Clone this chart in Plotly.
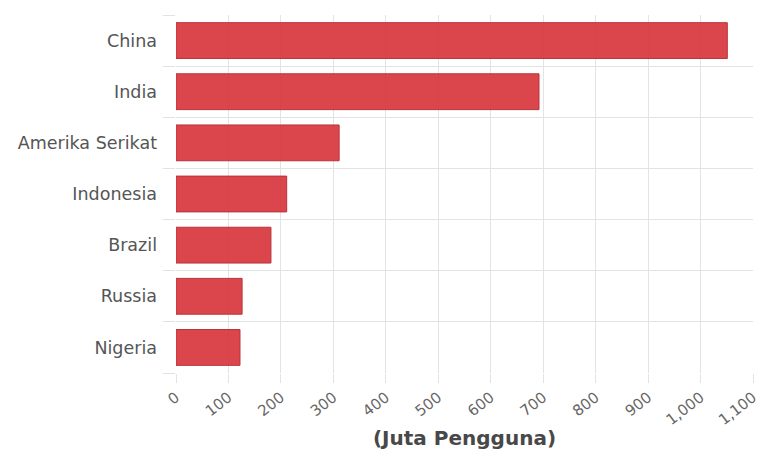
import plotly.graph_objects as go

countries = ["China", "India", "Amerika Serikat", "Indonesia", "Brazil", "Russia", "Nigeria"]
users = [1051, 692, 311, 211, 181, 126, 122]
x_tickvals = [0, 100, 200, 300, 400, 500, 600, 700, 800, 900, 1000, 1100]
x_ticktext = ["0", "100", "200", "300", "400", "500", "600", "700", "800", "900", "1,000", "1,100"]
x_title = "(Juta Pengguna)"

pos = list(range(len(countries)))
FONT = "DejaVu Sans"

fig = go.Figure(go.Bar(
    x=users, y=pos, orientation="h", width=0.7,
    marker=dict(color="rgba(216,56,62,0.93)", line=dict(color="#b9323a", width=1)),
))

fig.update_layout(
    width=766, height=450,
    margin=dict(l=176, r=13, t=15, b=77),
    plot_bgcolor="white", paper_bgcolor="white",
    font=dict(family=FONT, color="#555"),
    showlegend=False,
)
fig.update_xaxes(
    automargin=False,
    range=[0, 1100], tickvals=x_tickvals, ticktext=x_ticktext,
    tickangle=-38, tickfont=dict(size=15, color="#666", family=FONT),
    showgrid=True, gridcolor="#e3e3e3", gridwidth=1,
    ticks="outside", ticklen=9, tickcolor="#e3e3e3",
    zeroline=False, showline=False,
    title=dict(text="<b>" + x_title + "</b>", font=dict(size=20, color="#484848", family=FONT), standoff=13),
)
fig.update_yaxes(
    automargin=False,
    range=[6.5, -0.5], tickvals=pos, ticktext=countries,
    tickfont=dict(size=17.5, color="#555", family=FONT),
    showgrid=False, ticks="", ticklabelstandoff=18,
    zeroline=False, showline=False,
    minor=dict(tickvals=[i - 0.5 for i in range(len(countries) + 1)], showgrid=True,
               gridcolor="#e3e3e3", gridwidth=1, ticks="outside", ticklen=12, tickcolor="#e3e3e3"),
)

fig.write_html("out.html")
